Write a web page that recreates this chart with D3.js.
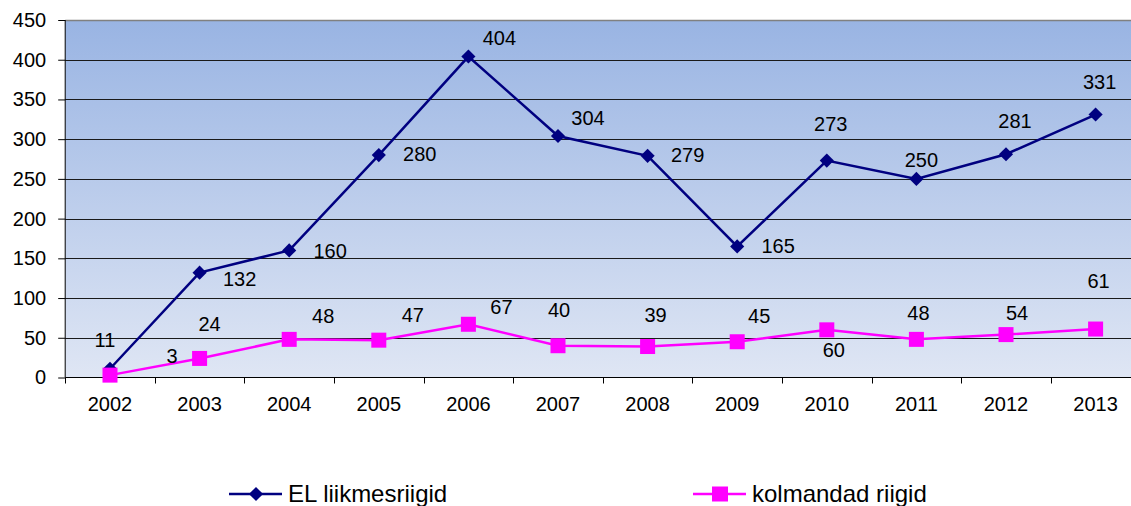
<!DOCTYPE html>
<html><head><meta charset="utf-8">
<script src="https://cdn.jsdelivr.net/npm/d3@7"></script>
<style>body{margin:0;background:#fff}svg{display:block}text{font-family:"Liberation Sans",Arial,sans-serif;fill:#000}</style>
</head><body>
<script>
const years = ["2002","2003","2004","2005","2006","2007","2008","2009","2010","2011","2012","2013"];
const elValues = [11,132,160,280,404,304,279,165,273,250,281,331];
const thirdValues = [3,24,48,47,67,40,39,45,60,48,54,61];
const yTicks = [0,50,100,150,200,250,300,350,400,450];
const seriesNames = ["EL liikmesriigid","kolmandad riigid"];
// label offsets (styling)
const elLabelOff = [[-5,-27],[40,8],[41,2],[41,1],[31,-17],[30,-16],[40,1],[41,1],[4,-35],[5,-17],[9,-32],[4,-31]];
const thLabelOff = [[62,-17],[10,-33],[34,-22],[34,-23],[33,-16],[1,-34],[8,-30],[22,-24],[7,22],[2,-25],[11,-20],[3,-46]];

const W=1131,H=506, L=65.2, T=20, B=377.5, step=89.6;
const svg=d3.select("body").append("svg").attr("width",W).attr("height",H);
const defs=svg.append("defs");
const g=defs.append("linearGradient").attr("id","bg").attr("x1",0).attr("y1",0).attr("x2",0).attr("y2",1);
g.append("stop").attr("offset","0%").attr("stop-color","#99b4e3");
g.append("stop").attr("offset","100%").attr("stop-color","#dfe6f4");

const x=d3.scaleBand().domain(years).range([L,L+step*12]);
const y=d3.scaleLinear().domain([0,450]).range([B,T]);

svg.append("rect").attr("x",L).attr("y",T).attr("width",step*12).attr("height",B-T).attr("fill","url(#bg)");
// grid
svg.append("g").selectAll("line").data(yTicks.filter(d=>d>0&&d<450)).join("line")
 .attr("x1",L).attr("x2",L+step*12).attr("y1",d=>Math.round(y(d))+0.5).attr("y2",d=>Math.round(y(d))+0.5)
 .attr("stroke","#1a1a1a").attr("stroke-width",1);
svg.append("line").attr("x1",L).attr("x2",L+step*12).attr("y1",T+0.5).attr("y2",T+0.5).attr("stroke","#808080").attr("stroke-width",1.5);

// y axis
const ya=svg.append("g").attr("transform",`translate(${L},0)`).call(d3.axisLeft(y).tickValues(yTicks).tickSize(7).tickPadding(12));
ya.select(".domain").attr("stroke","#000").attr("d",`M0,${T}V${B}`);
ya.selectAll(".tick line").attr("stroke","#000");
ya.selectAll("text").style("font-size","20px").attr("fill","#000");

// x axis
const xa=svg.append("g").attr("transform",`translate(0,${B})`).call(d3.axisBottom(x).tickSize(0).tickPadding(19));
xa.select(".domain").attr("stroke","#000").attr("d",`M${L},0H${L+step*12}`);
xa.selectAll("text").style("font-size","20px").attr("fill","#000");
svg.append("g").selectAll("line").data(d3.range(13)).join("line")
 .attr("x1",i=>Math.round(L+i*step)+0.5).attr("x2",i=>Math.round(L+i*step)+0.5)
 .attr("y1",B).attr("y2",B+6).attr("stroke","#000");

const cx=d=>x(d)+x.bandwidth()/2;
const line=d3.line().x(d=>cx(d[0])).y(d=>y(d[1]));
const elData=years.map((yr,i)=>[yr,elValues[i]]);
const thData=years.map((yr,i)=>[yr,thirdValues[i]]);

svg.append("path").datum(elData).attr("d",line).attr("fill","none").attr("stroke","#000080").attr("stroke-width",2.5);
svg.append("path").datum(thData).attr("d",line).attr("fill","none").attr("stroke","#ff00ff").attr("stroke-width",2.5);

svg.append("g").selectAll("path").data(elData).join("path")
 .attr("d",d3.symbol().type(d3.symbolSquare).size(100)())
 .attr("transform",d=>`translate(${cx(d[0])},${y(d[1])}) rotate(45)`).attr("fill","#000080");
svg.append("g").selectAll("rect").data(thData).join("rect")
 .attr("x",d=>cx(d[0])-7.5).attr("y",d=>y(d[1])-7.5).attr("width",15).attr("height",15).attr("fill","#ff00ff");

svg.append("g").selectAll("text").data(elData).join("text")
 .attr("x",(d,i)=>cx(d[0])+elLabelOff[i][0]).attr("y",(d,i)=>y(d[1])+elLabelOff[i][1])
 .attr("text-anchor","middle").attr("dominant-baseline","middle").style("font-size","20px").text(d=>d[1]);
svg.append("g").selectAll("text").data(thData).join("text")
 .attr("x",(d,i)=>cx(d[0])+thLabelOff[i][0]).attr("y",(d,i)=>y(d[1])+thLabelOff[i][1])
 .attr("text-anchor","middle").attr("dominant-baseline","middle").style("font-size","20px").text(d=>d[1]);

// legend
const lg=svg.append("g");
const lx=[229,693], ly=494;
lg.append("line").attr("x1",lx[0]).attr("x2",lx[0]+53).attr("y1",ly).attr("y2",ly).attr("stroke","#000080").attr("stroke-width",2.5);
lg.append("path").attr("d",d3.symbol().type(d3.symbolSquare).size(100)()).attr("transform",`translate(${lx[0]+27},${ly}) rotate(45)`).attr("fill","#000080");
lg.append("text").attr("x",lx[0]+59).attr("y",ly+2).attr("dominant-baseline","middle").style("font-size","24px").text(seriesNames[0]);
lg.append("line").attr("x1",lx[1]).attr("x2",lx[1]+53).attr("y1",ly).attr("y2",ly).attr("stroke","#ff00ff").attr("stroke-width",2.5);
lg.append("rect").attr("x",lx[1]+19).attr("y",ly-7.5).attr("width",16).attr("height",15).attr("fill","#ff00ff");
lg.append("text").attr("x",lx[1]+59).attr("y",ly+2).attr("dominant-baseline","middle").style("font-size","24px").text(seriesNames[1]);
</script>
</body></html>
